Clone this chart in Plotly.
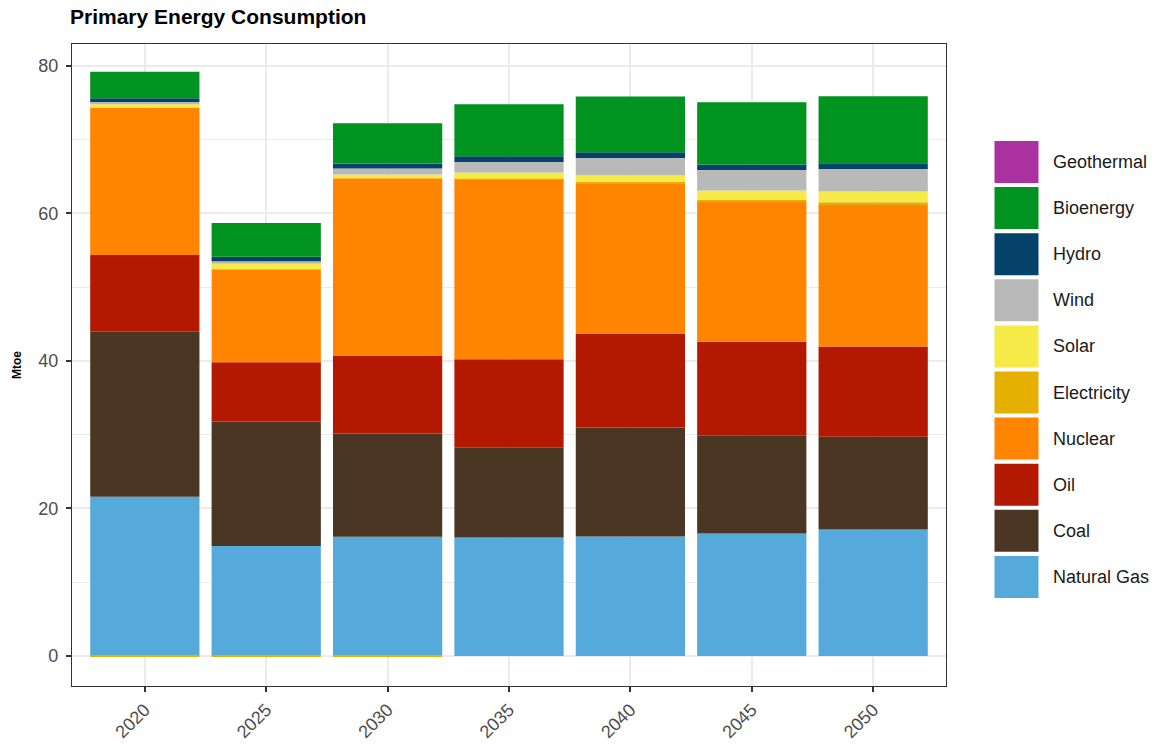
import plotly.graph_objects as go

years = ["2020", "2025", "2030", "2035", "2040", "2045", "2050"]

# series, bottom of stack first
natural_gas = [21.57, 14.90, 16.15, 16.07, 16.20, 16.61, 17.15]
coal        = [22.36, 16.89, 14.01, 12.14, 14.77, 13.32, 12.55]
oil         = [10.43, 8.03, 10.57, 12.02, 12.74, 12.65, 12.25]
nuclear     = [19.97, 12.60, 24.03, 24.39, 20.27, 18.97, 19.19]
electricity = [-0.10, -0.10, -0.10, 0.05, 0.28, 0.27, 0.36]
solar       = [0.47, 0.73, 0.50, 0.85, 0.90, 1.26, 1.45]
wind        = [0.30, 0.35, 0.81, 1.45, 2.34, 2.80, 3.07]
hydro       = [0.50, 0.60, 0.67, 0.78, 0.78, 0.72, 0.77]
bioenergy   = [3.60, 4.60, 5.46, 7.04, 7.54, 8.45, 9.08]
geothermal  = [0, 0, 0, 0, 0, 0, 0]

series_names = ["Natural Gas", "Coal", "Oil", "Nuclear", "Electricity",
                "Solar", "Wind", "Hydro", "Bioenergy", "Geothermal"]
series_values = [natural_gas, coal, oil, nuclear, electricity,
                 solar, wind, hydro, bioenergy, geothermal]
series_colors = ["#56AADB", "#4B3624", "#B31800", "#FF8400", "#E6B000",
                 "#F5EA47", "#B9B9B9", "#05426A", "#00931F", "#AB30A0"]

y_ticks = [0, 20, 40, 60, 80]

fig = go.Figure()
for name, vals, col in zip(series_names, series_values, series_colors):
    fig.add_trace(go.Bar(
        x=years, y=vals, name=name, width=0.9,
        marker=dict(color=col, line=dict(width=0)),
        showlegend=False,
    ))

W, H = 1159, 748
L, R, T, B = 72, 213, 44, 62
pw, ph = W - L - R, H - T - B

def px_x(p):
    return (p - L) / pw

def px_y(p):
    return (H - B - p) / ph

shapes = []
annotations = []
# manual legend (Geothermal on top)
key_top0 = 141.0
pitch = 46.1
key_h = 42.0
for i, (name, col) in enumerate(zip(series_names[::-1], series_colors[::-1])):
    top = key_top0 + i * pitch
    shapes.append(dict(type="rect", xref="paper", yref="paper",
                       x0=px_x(994.5), x1=px_x(1038.5),
                       y0=px_y(top + key_h), y1=px_y(top),
                       fillcolor=col, line=dict(width=0), layer="above"))
    annotations.append(dict(xref="paper", yref="paper",
                            x=px_x(1050.5), y=px_y(top + key_h / 2),
                            text=name, showarrow=False, xanchor="left",
                            yanchor="middle",
                            font=dict(size=18, color="#1A1A1A",
                                      family="Liberation Sans")))

annotations.append(dict(xref="paper", yref="paper", x=px_x(68), y=px_y(17),
                        text="<b>Primary Energy Consumption</b>",
                        showarrow=False, xanchor="left", yanchor="middle",
                        font=dict(size=21, color="#000000",
                                  family="Liberation Sans")))
annotations.append(dict(xref="paper", yref="paper", x=px_x(17), y=0.5,
                        text="<b>Mtoe</b>", textangle=-90,
                        showarrow=False, xanchor="center", yanchor="middle",
                        font=dict(size=12, color="#000000",
                                  family="Liberation Sans")))

fig.update_layout(
    width=W, height=H,
    margin=dict(l=L, r=R, t=T, b=B, autoexpand=False),
    barmode="relative",
    bargap=0.1,
    paper_bgcolor="white",
    plot_bgcolor="white",
    shapes=shapes,
    annotations=annotations,
    font=dict(family="Liberation Sans"),
    xaxis=dict(
        type="category", categoryorder="array", categoryarray=years,
        range=[-0.6, 6.6],
        showgrid=True, gridcolor="#EBEBEB", gridwidth=2,
        showline=True, mirror=True, linecolor="#333333", linewidth=1.2,
        ticks="outside", ticklen=5, tickcolor="#333333", tickwidth=1.5,
        tickangle=-45,
        tickfont=dict(size=18, color="#4D4D4D", family="Liberation Sans"),
        zeroline=False,
    ),
    yaxis=dict(
        range=[-4.07, 82.95],
        tickvals=y_ticks, ticktext=[str(v) for v in y_ticks],
        showgrid=True, gridcolor="#EBEBEB", gridwidth=2,
        minor=dict(dtick=10, tick0=0, showgrid=True,
                   gridcolor="#EBEBEB", gridwidth=1),
        showline=True, mirror=True, linecolor="#333333", linewidth=1.2,
        ticks="outside", ticklen=5, tickcolor="#333333", tickwidth=1.5,
        ticklabelstandoff=4,
        tickfont=dict(size=18, color="#4D4D4D", family="Liberation Sans"),
        zeroline=False,
    ),
)

fig.write_html("out.html",
               config={"displayModeBar": False},
               post_script="document.body.style.margin='0px';")
